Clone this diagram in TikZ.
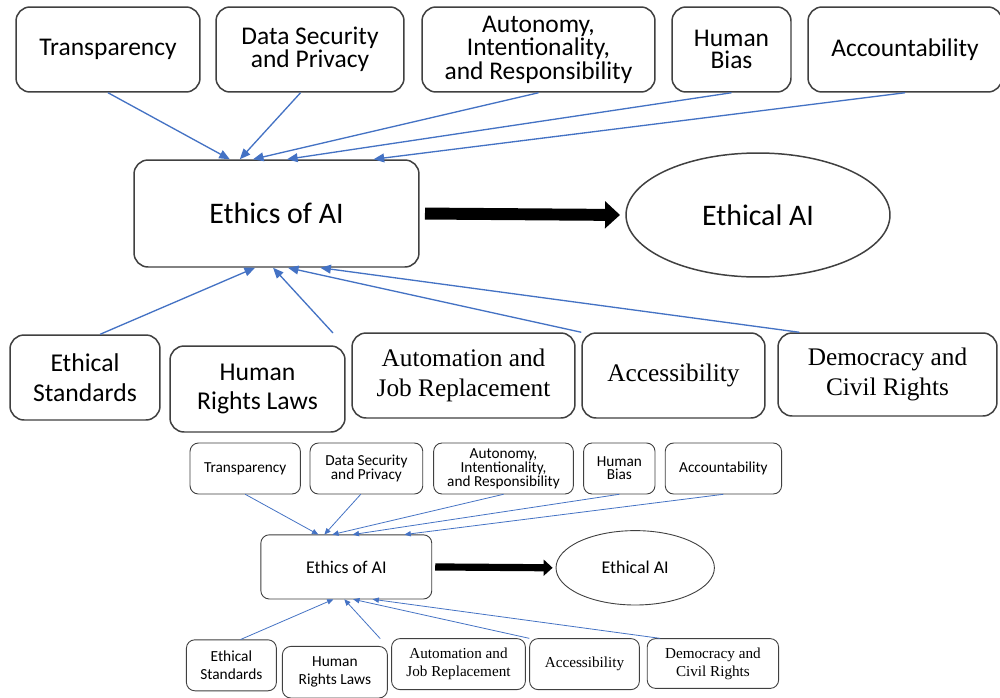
\documentclass[tikz,border=0pt]{standalone}
\usepackage{fontspec}
\usepackage{tikz}
\usetikzlibrary{arrows.meta,calc,shapes.geometric}

\newfontfamily\calfont{Carlito}
\newfontfamily\timesfont{Liberation Serif}
\definecolor{boxgray}{RGB}{64,64,64}
\definecolor{linkblue}{RGB}{68,114,196}

\tikzset{
  box/.style={draw=boxgray, line width=\boxlw, rounded corners=\boxrad,
    inner sep=0pt, align=center, minimum height=1.7cm},
  topbox/.style={box, font=\calfont\fontsize{14.5}{12.2}\selectfont},
  lowbox/.style={box, font=\calfont\fontsize{14.6}{17}\selectfont},
  serifbox/.style={box, font=\timesfont\fontsize{14.4}{17}\selectfont},
  link/.style={draw=linkblue, line width=\linklw,
    -{Triangle[length=\tiplen, width=\tipwd]}},
  bigarrow/.style={line width=\arrlw, shorten <=\gap, shorten >=\gap,
    -{Triangle[length=\headlen, width=\headwd]}},
}

% one copy of the diagram, #1 scales the line widths
\newcommand{\ethicsmap}[1]{%
  \pgfmathsetlengthmacro{\boxlw}{0.85pt*#1}%
  \pgfmathsetlengthmacro{\boxrad}{8pt*#1}%
  \pgfmathsetlengthmacro{\linklw}{0.75pt*#1}%
  \pgfmathsetlengthmacro{\tiplen}{6pt*#1}%
  \pgfmathsetlengthmacro{\tipwd}{5pt*#1}%
  \pgfmathsetlengthmacro{\arrlw}{6.8pt*#1}%
  \pgfmathsetlengthmacro{\headlen}{8.5pt*#1}%
  \pgfmathsetlengthmacro{\headwd}{15pt*#1}%
  \pgfmathsetlengthmacro{\gap}{3pt*#1}%
  % issues on top
  \node[topbox, minimum width=3.68cm] (trans) at (108,49.5) {Transparency};
  \node[topbox, minimum width=3.76cm] (datasec) at (310,49.5) {Data Security\\and Privacy};
  \node[topbox, minimum width=4.66cm] (autonomy) at (538.5,49.5) {Autonomy,\\Intentionality,\\and Responsibility};
  \node[topbox, minimum width=2.38cm] (bias) at (731.5,49.5) {Human\\Bias};
  \node[topbox, minimum width=3.88cm] (account) at (905,49.5) {Accountability};
  % middle
  \node[box, minimum width=5.7cm, minimum height=2.14cm,
    font=\calfont\fontsize{17}{20}\selectfont] (ethics) at (276.5,213.5) {Ethics of AI};
  \node[draw=boxgray, line width=\boxlw, ellipse, inner sep=0pt,
    minimum width=5.28cm, minimum height=2.48cm,
    font=\calfont\fontsize{17}{20}\selectfont] (ethicalai) at (758,215) {Ethical AI};
  % issues below
  \node[lowbox, minimum width=3cm] (ethstd) at (85,377.5) {Ethical\\Standards};
  \node[lowbox, minimum width=3.5cm, minimum height=1.72cm] (hrlaws) at (257.5,389) {Human\\Rights Laws};
  \node[serifbox, minimum width=4.46cm] (automation) at (463.5,375.5) {Automation and\\Job Replacement};
  \node[serifbox, minimum width=3.66cm] (access) at (673.5,375.5) {Accessibility};
  \node[serifbox, minimum width=4.38cm, minimum height=1.66cm] (democracy) at (887.5,374.5) {Democracy and\\Civil Rights};
  \coordinate (hrtop) at (333,333);
  % links
  \draw[link] (trans.south) -- ($(ethics.north west)!0.337!(ethics.north east)$);
  \draw[link] ($(datasec.south west)!0.45!(datasec.south east)$) -- ($(ethics.north west)!0.372!(ethics.north east)$);
  \draw[link] (autonomy.south) -- ($(ethics.north west)!0.418!(ethics.north east)$);
  \draw[link] (bias.south) -- ($(ethics.north west)!0.537!(ethics.north east)$);
  \draw[link] (account.south) -- ($(ethics.north west)!0.839!(ethics.north east)$);
  \draw[link] ($(ethstd.north west)!0.6!(ethstd.north east)$) -- ($(ethics.south west)!0.425!(ethics.south east)$);
  \draw[link] (hrtop) -- ($(ethics.south west)!0.488!(ethics.south east)$);
  \draw[link] (access.north west) -- ($(ethics.south west)!0.54!(ethics.south east)$);
  \draw[link] ($(democracy.north west)!0.1!(democracy.north east)$) -- ($(ethics.south west)!0.653!(ethics.south east)$);
  \draw[bigarrow] (ethics.east) -- (ethicalai.west);
}

\begin{document}
\begin{tikzpicture}[x=0.02cm, y=-0.02cm]
  \path[use as bounding box, fill=white] (0,0) rectangle (1000,697);
  % full size
  \begin{scope}[name prefix=big-]
    \ethicsmap{1}
  \end{scope}
  % smaller copy
  \begin{scope}[shift={(180.4,438.8)}, scale=0.6, transform shape, name prefix=small-]
    \ethicsmap{0.6}
  \end{scope}
\end{tikzpicture}
\end{document}
